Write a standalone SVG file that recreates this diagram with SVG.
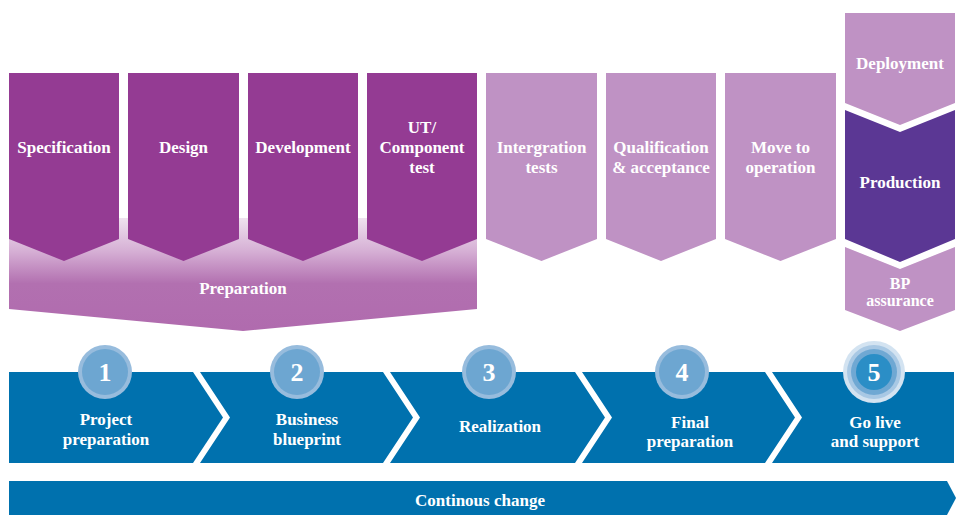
<svg xmlns="http://www.w3.org/2000/svg" width="964" height="515" viewBox="0 0 964 515">
<defs>
<linearGradient id="prepGrad" gradientUnits="userSpaceOnUse" x1="0" y1="218" x2="0" y2="331">
<stop offset="0" stop-color="#EFE2EF"/>
<stop offset="0.3" stop-color="#D5AED4"/>
<stop offset="0.58" stop-color="#B270B0"/>
<stop offset="1" stop-color="#B06BAE"/>
</linearGradient>
<style>
.lbl{font-family:"Liberation Serif","Times New Roman",serif;font-weight:bold;font-size:17px;fill:#fff;text-anchor:middle}
.sm{font-size:16px}
.num{font-family:"Liberation Serif","Times New Roman",serif;font-weight:bold;font-size:26px;fill:#fff;text-anchor:middle}
.dark{fill:#943B93}
.light{fill:#BF92C4}
.prod{fill:#5B3794}
.blue{fill:#0071AE}
.ringO{fill:#97BCDD}
.ringI{fill:#6DA6D1}
</style>
</defs>
<rect width="964" height="515" fill="#fff"/>

<g id="preparation">
<polygon points="9,218 477,218 477,309 243,331 9,309" fill="url(#prepGrad)"/>
<text class="lbl" x="243" y="294">Preparation</text>
</g>

<g id="specification">
<polygon class="dark" points="9,73 119,73 119,239 64,261 9,239"/>
<text class="lbl" x="64" y="153">Specification</text>
</g>
<g id="design">
<polygon class="dark" points="128,73 239,73 239,239 183.5,261 128,239"/>
<text class="lbl" x="183.5" y="153">Design</text>
</g>
<g id="development">
<polygon class="dark" points="248,73 358,73 358,239 303,261 248,239"/>
<text class="lbl" x="303" y="153">Development</text>
</g>
<g id="ut-component-test">
<polygon class="dark" points="367,73 477,73 477,239 422,261 367,239"/>
<text class="lbl" x="422" y="133">UT/</text>
<text class="lbl" x="422" y="153">Component</text>
<text class="lbl" x="422" y="173">test</text>
</g>
<g id="integration-tests">
<polygon class="light" points="486,73 597,73 597,239 541.5,261 486,239"/>
<text class="lbl" x="541.5" y="153">Intergration</text>
<text class="lbl" x="541.5" y="173">tests</text>
</g>
<g id="qualification">
<polygon class="light" points="606,73 716,73 716,239 661,261 606,239"/>
<text class="lbl" x="661" y="153">Qualification</text>
<text class="lbl" x="661" y="173">&amp; acceptance</text>
</g>
<g id="move-to-operation">
<polygon class="light" points="725,73 836,73 836,239 780.5,261 725,239"/>
<text class="lbl" x="780.5" y="153">Move to</text>
<text class="lbl" x="780.5" y="173">operation</text>
</g>
<g id="deployment">
<polygon class="light" points="845,13 955,13 955,103 900,125 845,103"/>
<text class="lbl" x="900" y="69">Deployment</text>
</g>
<g id="production">
<polygon class="prod" points="845,110 900,132 955,110 955,239 900,262 845,239"/>
<text class="lbl" x="900" y="188">Production</text>
</g>
<g id="bp-assurance">
<polygon class="light" points="845,247 900,269 955,247 955,310 900,331 845,310"/>
<text class="lbl sm" x="900" y="289">BP</text>
<text class="lbl sm" x="900" y="306">assurance</text>
</g>

<g id="phase1">
<polygon class="blue" points="9,372 193,372 223,417.5 193,463 9,463"/>
<text class="lbl" x="106" y="425">Project</text>
<text class="lbl" x="106" y="445">preparation</text>
<circle class="ringO" cx="105" cy="372" r="27"/>
<circle class="ringI" cx="105" cy="372" r="23"/>
<text class="num" x="105" y="381">1</text>
</g>
<g id="phase2">
<polygon class="blue" points="200,372 383,372 413,417.5 383,463 200,463 230,417.5"/>
<text class="lbl" x="307" y="425">Business</text>
<text class="lbl" x="307" y="445">blueprint</text>
<circle class="ringO" cx="297" cy="372" r="27"/>
<circle class="ringI" cx="297" cy="372" r="23"/>
<text class="num" x="297" y="381">2</text>
</g>
<g id="phase3">
<polygon class="blue" points="390,372 575,372 605,417.5 575,463 390,463 420,417.5"/>
<text class="lbl" x="500" y="432">Realization</text>
<circle class="ringO" cx="489" cy="372" r="27"/>
<circle class="ringI" cx="489" cy="372" r="23"/>
<text class="num" x="489" y="381">3</text>
</g>
<g id="phase4">
<polygon class="blue" points="582,372 765,372 795,417.5 765,463 582,463 612,417.5"/>
<text class="lbl" x="690" y="428">Final</text>
<text class="lbl" x="690" y="447">preparation</text>
<circle class="ringO" cx="682" cy="372" r="27"/>
<circle class="ringI" cx="682" cy="372" r="23"/>
<text class="num" x="682" y="381">4</text>
</g>
<g id="phase5">
<polygon class="blue" points="772,372 954,372 954,463 772,463 802,417.5"/>
<text class="lbl" x="875" y="428">Go live</text>
<text class="lbl" x="875" y="447">and support</text>
<circle cx="874" cy="372" r="31" fill="#D3E3F1"/>
<circle cx="874" cy="372" r="27" fill="#A8C8E4"/>
<circle cx="874" cy="372" r="23" fill="#6FA8D3"/>
<circle cx="874" cy="372" r="18" fill="#2B8EC6"/>
<text class="num" x="874" y="381">5</text>
</g>

<g id="continuous-change">
<polygon class="blue" points="9,481 947,481 956,498 947,515 9,515"/>
<text class="lbl" x="480" y="506">Continous change</text>
</g>
</svg>
